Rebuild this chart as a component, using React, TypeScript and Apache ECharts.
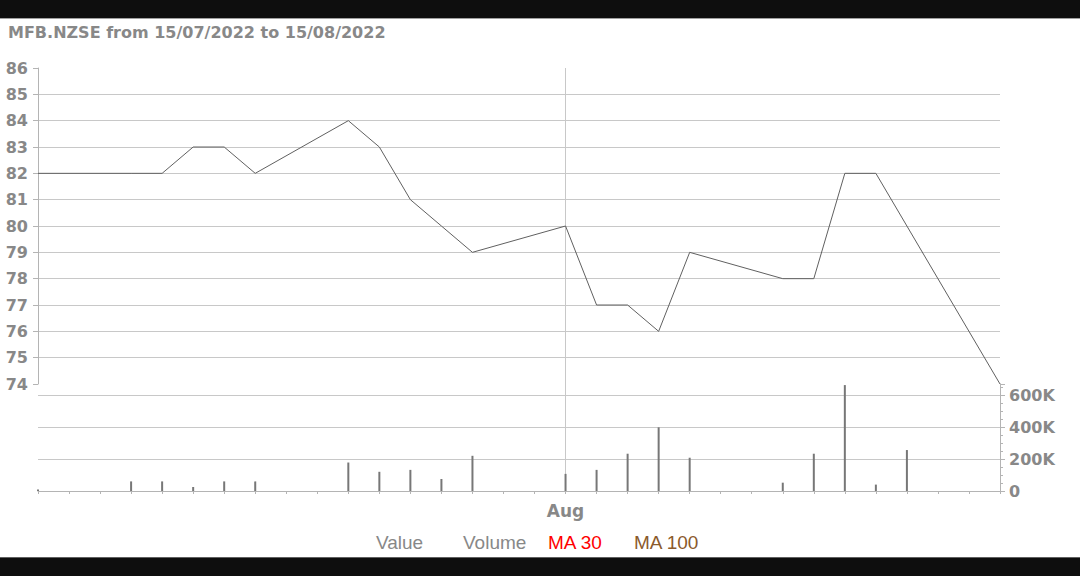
import React, { useEffect, useRef } from 'react';
import * as echarts from 'echarts';

const TITLE = 'MFB.NZSE from 15/07/2022 to 15/08/2022';
const tradingDates = [
  '2022-07-15', '2022-07-18', '2022-07-19', '2022-07-20', '2022-07-21', '2022-07-22',
  '2022-07-25', '2022-07-26', '2022-07-27', '2022-07-28', '2022-07-29',
  '2022-08-01', '2022-08-02', '2022-08-03', '2022-08-04', '2022-08-05',
  '2022-08-08', '2022-08-09', '2022-08-10', '2022-08-11', '2022-08-12', '2022-08-15',
];
const prices = [82, 82, 82, 83, 83, 82, 84, 83, 81, 80, 79, 80, 77, 77, 76, 79, 78, 78, 82, 82, 80, 74];
const volumes = [
  10000, 60000, 60000, 25000, 60000, 60000, 178000, 120000, 132000, 75000, 220000,
  107000, 132000, 233000, 398000, 208000, 52000, 233000, 662000, 40000, 256000, 0,
];
const legendNames = ['Value', 'Volume', 'MA 30', 'MA 100'];
const legendColors = ['#888888', '#888888', '#ff0000', '#8b5a2b'];
const legendLefts = [371, 458, 543, 629];
const monthNames = ['Jan', 'Feb', 'Mar', 'Apr', 'May', 'Jun', 'Jul', 'Aug', 'Sep', 'Oct', 'Nov', 'Dec'];

const DAY = 86400000;
const startT = Date.parse(tradingDates[0] + 'T00:00:00Z');
const endT = Date.parse(tradingDates[tradingDates.length - 1] + 'T00:00:00Z');
const days: string[] = [];
for (let t = startT; t <= endT; t += DAY) days.push(new Date(t).toISOString().slice(0, 10));
const priceByDay = days.map((d) => {
  const i = tradingDates.indexOf(d);
  return i >= 0 ? prices[i] : null;
});
const volByDay = days.map((d) => {
  const i = tradingDates.indexOf(d);
  return i >= 0 ? volumes[i] : null;
});
const isMonthStart = (d: string) => d.slice(8) === '01';

const GRID_COLOR = '#c8c8c8';
const AXIS_COLOR = '#b4b4b4';
const LABEL_FONT = {
  color: '#888888',
  fontWeight: 'bold' as const,
  fontFamily: 'DejaVu Sans',
  fontSize: 16,
};

export default function App() {
  const ref = useRef<HTMLDivElement>(null);
  useEffect(() => {
    if (!ref.current) return;
    const chart = echarts.init(ref.current, undefined, { renderer: 'svg' });
    const option: any = {
      animation: false,
      backgroundColor: '#ffffff',
      title: {
        text: TITLE,
        left: 8,
        top: 24,
        padding: 0,
        textStyle: { color: '#888888', fontWeight: 'bold', fontSize: 16, fontFamily: 'DejaVu Sans' },
      },
      legend: legendNames.map((name, i) => ({
        data: [{ name, textStyle: { color: legendColors[i] } }],
        left: legendLefts[i],
        top: 533,
        padding: 0,
        itemWidth: 0,
        itemHeight: 0,
        icon: 'rect',
        selectedMode: false,
        textStyle: { fontFamily: 'Liberation Sans', fontSize: 19, color: legendColors[i] },
      })),
      grid: [
        { left: 38, top: 68, width: 962, height: 316 },
        { left: 38, top: 384, width: 962, height: 107 },
      ],
      xAxis: [
        {
          type: 'category',
          gridIndex: 0,
          data: days,
          boundaryGap: false,
          axisLine: { show: false },
          axisTick: { show: false },
          axisLabel: { show: false },
          splitLine: {
            show: true,
            interval: (_i: number, v: string) => isMonthStart(v),
            lineStyle: { color: GRID_COLOR, width: 1 },
          },
        },
        {
          type: 'category',
          gridIndex: 1,
          data: days,
          boundaryGap: false,
          axisLine: { show: true, lineStyle: { color: AXIS_COLOR, width: 1 } },
          axisTick: { show: true, interval: 0, length: 3, lineStyle: { color: AXIS_COLOR } },
          axisLabel: {
            ...LABEL_FONT,
            fontSize: 17,
            margin: 11,
            interval: (_i: number, v: string) => isMonthStart(v),
            formatter: (v: string) => monthNames[parseInt(v.slice(5, 7), 10) - 1],
          },
          splitLine: {
            show: true,
            interval: (_i: number, v: string) => isMonthStart(v),
            lineStyle: { color: GRID_COLOR, width: 1 },
          },
        },
      ],
      yAxis: [
        {
          type: 'value',
          gridIndex: 0,
          min: 74,
          max: 86,
          interval: 1,
          axisLine: { show: true, lineStyle: { color: AXIS_COLOR } },
          axisTick: { show: true, length: 5, lineStyle: { color: AXIS_COLOR } },
          axisLabel: { ...LABEL_FONT, margin: 10 },
          splitLine: {
            show: true,
            showMinLine: false,
            showMaxLine: false,
            lineStyle: { color: GRID_COLOR, width: 1 },
          },
        },
        {
          type: 'value',
          gridIndex: 1,
          position: 'right',
          min: 0,
          max: 668750,
          interval: 200000,
          axisLine: { show: true, lineStyle: { color: AXIS_COLOR } },
          axisTick: { show: true, length: 5, lineStyle: { color: AXIS_COLOR } },
          minorTick: { show: true, splitNumber: 4, length: 3, lineStyle: { color: AXIS_COLOR } },
          axisLabel: {
            ...LABEL_FONT,
            margin: 9,
            showMaxLabel: false,
            formatter: (v: number) => (v === 0 ? '0' : v / 1000 + 'K'),
          },
          splitLine: {
            show: true,
            showMinLine: false,
            showMaxLine: false,
            lineStyle: { color: GRID_COLOR, width: 1 },
          },
        },
      ],
      series: [
        {
          name: 'Value',
          type: 'line',
          xAxisIndex: 0,
          yAxisIndex: 0,
          data: priceByDay,
          connectNulls: true,
          symbol: 'none',
          lineStyle: { color: '#606060', width: 1 },
          itemStyle: { color: '#888888' },
        },
        {
          name: 'Volume',
          type: 'bar',
          xAxisIndex: 1,
          yAxisIndex: 1,
          data: volByDay,
          barWidth: 2,
          itemStyle: { color: '#777777' },
        },
        {
          name: 'MA 30',
          type: 'line',
          xAxisIndex: 0,
          yAxisIndex: 0,
          data: [],
          symbol: 'none',
          itemStyle: { color: '#ff0000' },
        },
        {
          name: 'MA 100',
          type: 'line',
          xAxisIndex: 0,
          yAxisIndex: 0,
          data: [],
          symbol: 'none',
          itemStyle: { color: '#8b5a2b' },
        },
      ],
    };
    chart.setOption(option);
    return () => chart.dispose();
  }, []);

  return (
    <div style={{ position: 'fixed', left: 0, top: 0, width: 1080, height: 576, background: '#ffffff', overflow: 'hidden' }}>
      <div ref={ref} style={{ position: 'absolute', left: 0, top: 0, width: 1080, height: 576 }} />
      <div style={{ position: 'absolute', left: 0, top: 0, width: 1080, height: 18, background: '#0e0e0e', borderBottom: '1px solid #a0a0a0' }} />
      <div style={{ position: 'absolute', left: 0, top: 557, width: 1080, height: 19, background: '#0e0e0e', borderTop: '1px solid #606060' }} />
    </div>
  );
}
